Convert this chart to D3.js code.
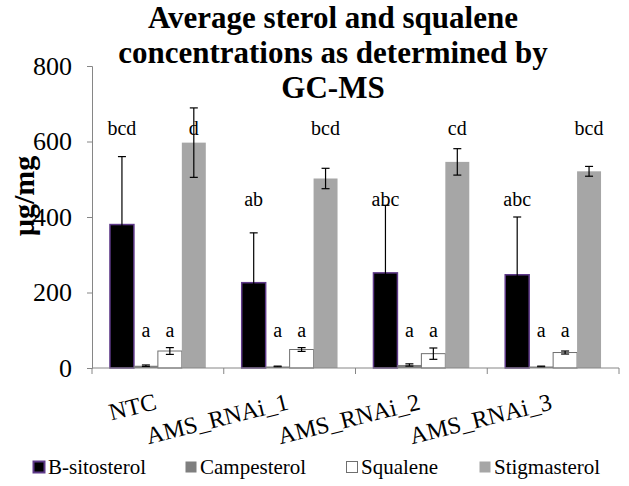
<!DOCTYPE html>
<html>
<head>
<meta charset="utf-8">
<script src="https://cdn.jsdelivr.net/npm/d3@7"></script>
<style>
  body { margin: 0; background: #fff; }
  text { font-family: "Liberation Serif", "Times New Roman", serif; }
</style>
</head>
<body>
<svg width="629" height="486"></svg>
<script>
// data
let categories = ['NTC', 'AMS_RNAi_1', 'AMS_RNAi_2', 'AMS_RNAi_3'];
let series = ['B-sitosterol', 'Campesterol', 'Squalene', 'Stigmasterol'];

let sitosterol   = [380, 226, 252, 247];
let campesterol  = [6, 4, 8, 4];
let squalene     = [45, 49, 38, 41];
let stigmasterol = [597, 502, 546, 521];

let sitosterolErr   = [180, 132, 179, 153];
let campesterolErr  = [2, 1, 3, 1];
let squaleneErr     = [9, 5, 15, 4];
let stigmasterolErr = [92, 27, 35, 13];

// significance letters and the height (in µg/mg) they sit at
let sitosterolTag   = ['bcd', 'ab', 'abc', 'abc'];
let campesterolTag  = ['a', 'a', 'a', 'a'];
let squaleneTag     = ['a', 'a', 'a', 'a'];
let stigmasterolTag = ['d', 'bcd', 'cd', 'bcd'];
let sitosterolTagAt   = [617, 429, 429, 429];
let otherTagAt        = [82, 82, 82, 82];
let stigmasterolTagAt = [617, 617, 617, 617];

let yTicks = [0, 200, 400, 600, 800];

let values = [sitosterol, campesterol, squalene, stigmasterol];
let errors = [sitosterolErr, campesterolErr, squaleneErr, stigmasterolErr];
let tags = [sitosterolTag, campesterolTag, squaleneTag, stigmasterolTag];
let tagAt = [sitosterolTagAt, otherTagAt, otherTagAt, stigmasterolTagAt];

let fills   = ['#000000', '#7f7f7f', '#ffffff', '#a6a6a6'];
let strokes = ['#5f3a8a', 'none', '#6f6f6f', 'none'];

let plotLeft = 92, plotRight = 619, plotTop = 66, plotBottom = 368;

let svg = d3.select('svg');

let x0 = d3.scaleBand().domain(categories).range([plotLeft, plotRight]);
let x1 = d3.scaleBand().domain(series).range([0, x0.bandwidth()])
           .paddingInner(0).paddingOuter(0.75);
let y = d3.scaleLinear().domain([0, 800]).range([plotBottom, plotTop]);

// title
let title = ['Average sterol and squalene', 'concentrations as determined by', 'GC-MS'];
svg.append('g').selectAll('text')
   .data(title)
   .enter()
   .append('text')
   .attr('x', 333)
   .attr('y', (d, i) => 28 + i * 35)
   .attr('text-anchor', 'middle')
   .attr('font-size', 31)
   .attr('font-weight', 'bold')
   .text(d => d);

// y axis
let yAxis = svg.append('g')
               .attr('transform', `translate(${plotLeft},0)`)
               .call(d3.axisLeft(y).tickValues(yTicks).tickSize(5).tickPadding(15));
yAxis.select('.domain').attr('stroke', '#868686');
yAxis.selectAll('.tick line').attr('stroke', '#868686');
yAxis.selectAll('.tick text')
     .attr('font-family', '"Liberation Serif", serif')
     .attr('font-size', 26)
     .attr('fill', '#000');

svg.append('text')
   .attr('transform', `translate(34,196) rotate(-90)`)
   .attr('text-anchor', 'middle')
   .attr('font-size', 30)
   .attr('font-weight', 'bold')
   .text('µg/mg');

// bars
let groups = svg.append('g').selectAll('g')
                .data(series)
                .enter()
                .append('g');

groups.each(function (s, si) {
  let g = d3.select(this);
  categories.forEach((c, ci) => {
    let bx = x0(c) + x1(s);
    let v = values[si][ci];
    g.append('rect')
     .attr('x', bx)
     .attr('y', y(v))
     .attr('width', x1.bandwidth())
     .attr('height', y(0) - y(v))
     .attr('fill', fills[si])
     .attr('stroke', strokes[si])
     .attr('stroke-width', si == 0 ? 1.5 : 1);
  });
});

// error bars
groups.each(function (s, si) {
  let g = d3.select(this);
  categories.forEach((c, ci) => {
    let cx = x0(c) + x1(s) + x1.bandwidth() / 2;
    let hi = y(values[si][ci] + errors[si][ci]);
    let lo = y(values[si][ci] - errors[si][ci]);
    g.append('line').attr('x1', cx).attr('x2', cx).attr('y1', hi).attr('y2', lo)
     .attr('stroke', '#000').attr('stroke-width', 1.2);
    [hi, lo].forEach(yy => {
      g.append('line').attr('x1', cx - 4).attr('x2', cx + 4).attr('y1', yy).attr('y2', yy)
       .attr('stroke', '#000').attr('stroke-width', 1.2);
    });
  });
});

// letters
groups.each(function (s, si) {
  let g = d3.select(this);
  categories.forEach((c, ci) => {
    g.append('text')
     .attr('x', x0(c) + x1(s) + x1.bandwidth() / 2)
     .attr('y', y(tagAt[si][ci]))
     .attr('text-anchor', 'middle')
     .attr('font-size', 20)
     .text(tags[si][ci]);
  });
});

// x axis
svg.append('line')
   .attr('x1', plotLeft).attr('x2', plotRight)
   .attr('y1', plotBottom).attr('y2', plotBottom)
   .attr('stroke', '#868686');
svg.append('g').selectAll('line')
   .data(categories.concat(['end']))
   .enter()
   .append('line')
   .attr('x1', (d, i) => plotLeft + i * x0.bandwidth())
   .attr('x2', (d, i) => plotLeft + i * x0.bandwidth())
   .attr('y1', plotBottom).attr('y2', plotBottom + 6)
   .attr('stroke', '#868686');

svg.append('g').selectAll('text')
   .data(categories)
   .enter()
   .append('text')
   .attr('transform', d => `translate(${x0(d) + x0.bandwidth() / 2},409) rotate(-14)`)
   .attr('text-anchor', 'end')
   .attr('font-size', 24)
   .text(d => d);

// legend
let legendX = [33, 185, 346, 479];
let legend = svg.append('g').selectAll('g')
                .data(series)
                .enter()
                .append('g')
                .attr('transform', (d, i) => `translate(${legendX[i]},461)`);
legend.append('rect')
      .attr('x', 0.5).attr('y', 0.5)
      .attr('width', 11).attr('height', 11)
      .attr('fill', (d, i) => fills[i])
      .attr('stroke', (d, i) => i == 0 ? '#5f3a8a' : i == 2 ? '#6f6f6f' : 'none')
      .attr('stroke-width', (d, i) => i == 0 ? 2 : 1);
legend.append('text')
      .attr('x', 15)
      .attr('y', 13)
      .attr('font-size', 21)
      .text(d => d);
</script>
</body>
</html>
